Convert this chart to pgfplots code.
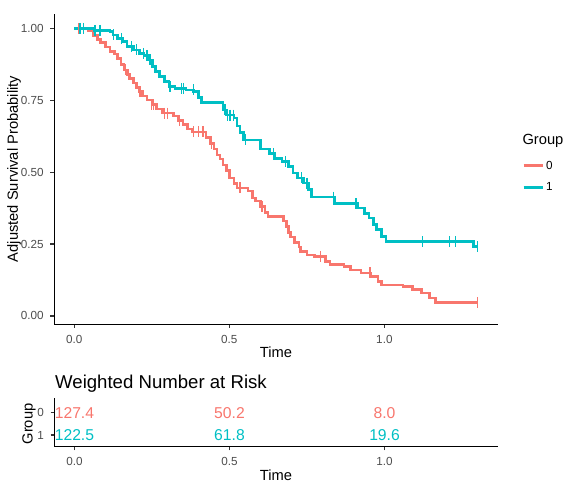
\documentclass[border=0pt]{standalone}
\usepackage{pgfplots}
\pgfplotsset{compat=1.18}
\usepackage{fontspec}
\setmainfont{Liberation Sans}
\definecolor{gred}{HTML}{F8766D}
\definecolor{gcyan}{HTML}{00BFC4}
\definecolor{axtext}{HTML}{4D4D4D}
\definecolor{axtick}{HTML}{333333}
\newcommand{\fs}[1]{\fontsize{#1bp}{#1bp}\selectfont}
\begin{document}
\begin{tikzpicture}
\path[use as bounding box] (0,0) rectangle (575bp,490bp);
\pgfplotsset{
  ggstyle/.style={
    scale only axis,
    axis lines=left,
    axis line style={-, line width=1.1bp, black},
    tick align=outside,
    major tick length=3.67bp,
    tick style={line width=1.1bp, axtick},
    tick label style={font=\fs{11.7}, text=axtext},
    xmin=-0.065, xmax=1.365,
    xtick={0,0.5,1}, xticklabels={0.0,0.5,1.0},
    xticklabel style={anchor=north, inner sep=0pt, yshift=-7.2bp},
    yticklabel style={anchor=east, inner sep=0pt, xshift=-6.6bp},
  }
}
\begin{axis}[ggstyle, at={(54.15bp,165.7bp)}, anchor=south west,
  width=443.4bp, height=310.4bp, ymin=-0.029, ymax=1.05,
  ytick={0,0.25,0.5,0.75,1}, yticklabels={0.00,0.25,0.50,0.75,1.00},
  legend style={draw=none, fill=none, at={(axis description cs:1.055,0.476)}, anchor=west,
    inner sep=0pt, row sep=8bp, font=\fs{11.7}, nodes={inner sep=2bp}},
  legend cell align=left,
  legend image code/.code={\draw[#1, line width=3bp] (0bp,0bp) -- (19bp,0bp);}]
\addplot[const plot, gred, line width=2.6bp] coordinates {
(0,1) (0.045,0.99) (0.06,0.975) (0.075,0.96) (0.085,0.95) (0.10,0.935) (0.115,0.92) (0.13,0.91) (0.14,0.895) (0.15,0.875) (0.16,0.855) (0.17,0.84) (0.18,0.825) (0.19,0.81) (0.20,0.795) (0.21,0.78) (0.22,0.765) (0.235,0.75) (0.25,0.735) (0.265,0.72) (0.285,0.705) (0.32,0.695) (0.335,0.68) (0.35,0.665) (0.365,0.65) (0.38,0.64) (0.425,0.62) (0.44,0.60) (0.45,0.58) (0.46,0.56) (0.47,0.545) (0.48,0.525) (0.49,0.505) (0.50,0.48) (0.515,0.46) (0.525,0.445) (0.56,0.435) (0.575,0.41) (0.585,0.40) (0.60,0.38) (0.615,0.36) (0.625,0.345) (0.675,0.33) (0.685,0.31) (0.69,0.29) (0.697,0.275) (0.71,0.255) (0.725,0.24) (0.73,0.225) (0.75,0.212) (0.775,0.207) (0.81,0.19) (0.825,0.178) (0.87,0.172) (0.89,0.16) (0.925,0.15) (0.955,0.137) (0.98,0.12) (0.99,0.108) (1.06,0.103) (1.09,0.093) (1.12,0.08) (1.145,0.063) (1.165,0.046) (1.30,0.046)};
\addlegendentry{0}
\addplot[const plot, gcyan, line width=2.6bp] coordinates {
(0,1) (0.065,0.993) (0.115,0.988) (0.125,0.977) (0.14,0.965) (0.155,0.954) (0.17,0.937) (0.19,0.925) (0.21,0.913) (0.225,0.906) (0.24,0.89) (0.252,0.868) (0.262,0.85) (0.275,0.832) (0.29,0.815) (0.305,0.798) (0.325,0.791) (0.36,0.786) (0.385,0.78) (0.40,0.76) (0.41,0.742) (0.48,0.716) (0.49,0.698) (0.515,0.688) (0.525,0.66) (0.535,0.637) (0.545,0.612) (0.60,0.58) (0.63,0.565) (0.645,0.548) (0.67,0.536) (0.69,0.52) (0.705,0.497) (0.72,0.48) (0.74,0.462) (0.755,0.44) (0.765,0.413) (0.84,0.39) (0.915,0.375) (0.935,0.357) (0.95,0.34) (0.965,0.318) (0.975,0.30) (0.99,0.277) (1.005,0.258) (1.288,0.241) (1.30,0.241)};
\addlegendentry{1}
\addplot[only marks, mark=|, mark size=5.5bp, gred, mark options={line width=1.3bp}, forget plot] coordinates {
(0.013,1) (0.03,1) (0.164,0.855) (0.175,0.84) (0.212,0.78) (0.25,0.735) (0.256,0.735) (0.29,0.705) (0.30,0.705) (0.34,0.68) (0.385,0.64) (0.40,0.64) (0.415,0.64) (0.443,0.60) (0.534,0.445) (0.605,0.38) (0.793,0.207) (0.954,0.15) (1.30,0.046)};
\addplot[only marks, mark=|, mark size=5.5bp, gcyan, mark options={line width=1.3bp}, forget plot] coordinates {
(0.018,1) (0.029,1) (0.067,0.993) (0.083,0.993) (0.126,0.977) (0.153,0.965) (0.185,0.937) (0.20,0.925) (0.223,0.913) (0.234,0.906) (0.244,0.89) (0.309,0.798) (0.346,0.791) (0.352,0.791) (0.384,0.786) (0.486,0.716) (0.495,0.698) (0.502,0.698) (0.513,0.698) (0.551,0.612) (0.642,0.565) (0.68,0.536) (0.733,0.48) (0.75,0.462) (0.835,0.413) (0.908,0.39) (1.124,0.258) (1.209,0.258) (1.23,0.258) (1.30,0.241)};
\end{axis}
\begin{axis}[ggstyle, at={(54.3bp,43.3bp)}, anchor=south west,
  width=443.4bp, height=48.4bp, ymin=-0.525, ymax=1.645,
  ytick={0,1}, yticklabels={1,0}]
\addplot[draw=none, mark=none, nodes near coords, point meta=explicit symbolic,
  every node near coord/.append style={anchor=center, font=\fs{15.7}, text=gred}]
  coordinates {(0,1) [127.4] (0.5,1) [50.2] (1,1) [8.0]};
\addplot[draw=none, mark=none, nodes near coords, point meta=explicit symbolic,
  every node near coord/.append style={anchor=center, font=\fs{15.7}, text=gcyan}]
  coordinates {(0,0) [122.5] (0.5,0) [61.8] (1,0) [19.6]};
\end{axis}
\node[font=\fs{14.7}, rotate=90] at (14bp,321bp) {Adjusted Survival Probability};
\node[font=\fs{14.7}] at (276bp,138bp) {Time};
\node[font=\fs{14.7}, anchor=west] at (519bp,349bp) {Group};
\node[font=\fs{18.6}, anchor=base west, inner sep=0pt] at (55bp,101bp) {Weighted Number at Risk};
\node[font=\fs{14.7}, rotate=90] at (29bp,66bp) {Group};
\node[font=\fs{14.7}] at (276bp,15bp) {Time};
\end{tikzpicture}
\end{document}
